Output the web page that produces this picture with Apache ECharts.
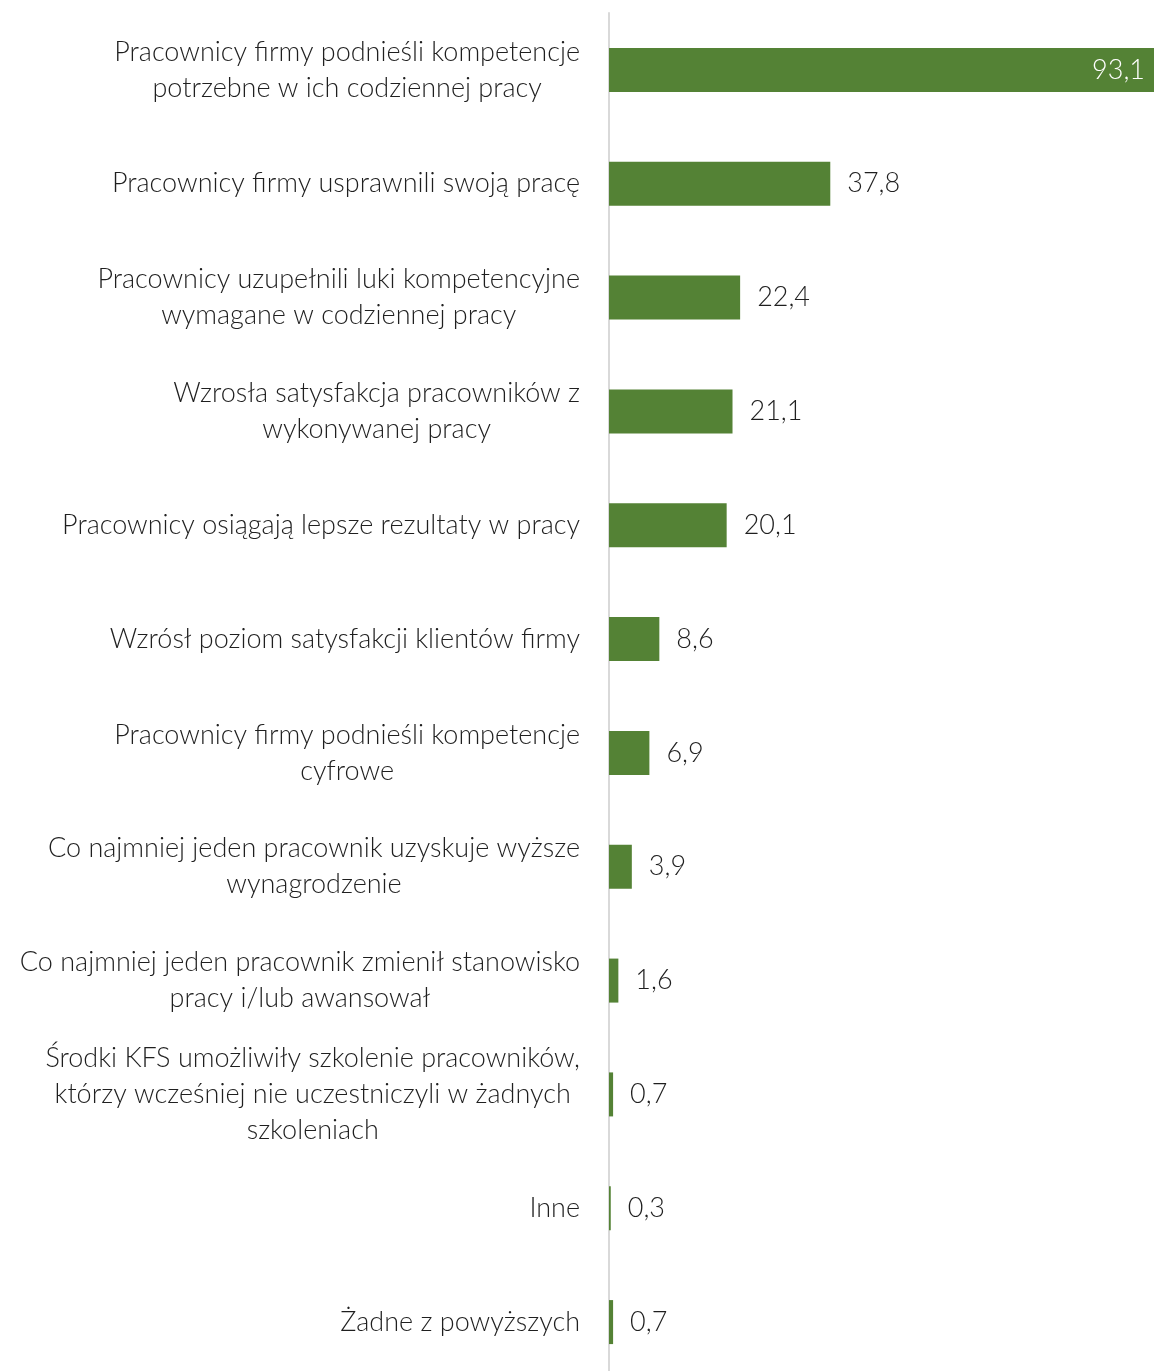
<!DOCTYPE html>
<html>
<head>
<meta charset="utf-8">
<script src="https://cdn.jsdelivr.net/npm/echarts@6/dist/echarts.min.js"></script>
<style>
  html, body { margin: 0; padding: 0; background: #fff; overflow: hidden; }
  /* a little taller than the window so the last band runs off the bottom edge */
  #chart1 { width: 1154px; height: 1379px; }
</style>
</head>
<body>
<div id="chart1"></div>
<script>
// categories (top to bottom), line breaks as in the original
var categoryList = [
	'Pracownicy firmy podnieśli kompetencje\npotrzebne w ich codziennej pracy',
	'Pracownicy firmy usprawnili swoją pracę',
	'Pracownicy uzupełnili luki kompetencyjne\nwymagane w codziennej pracy',
	'Wzrosła satysfakcja pracowników z\nwykonywanej pracy',
	'Pracownicy osiągają lepsze rezultaty w pracy',
	'Wzrósł poziom satysfakcji klientów firmy',
	'Pracownicy firmy podnieśli kompetencje\ncyfrowe',
	'Co najmniej jeden pracownik uzyskuje wyższe\nwynagrodzenie',
	'Co najmniej jeden pracownik zmienił stanowisko\npracy i/lub awansował',
	'Środki KFS umożliwiły szkolenie pracowników,\nktórzy wcześniej nie uczestniczyli w żadnych\nszkoleniach',
	'Inne',
	'Żadne z powyższych'
];
var valueList = [93.1, 37.8, 22.4, 21.1, 20.1, 8.6, 6.9, 3.9, 1.6, 0.7, 0.3, 0.7];

var fontName = 'Lato, "Open Sans", sans-serif';
var textColor = '#1f1f1f';
var barColor = '#548235';

var chart = echarts.init(document.getElementById('chart1'));

var seriesData = [];
for (var i = 0; i < valueList.length; i++) {
	var item = { value: valueList[i] };
	if (i == 0) {
		// the longest bar carries its label inside
		item.label = { position: 'insideRight', color: '#ffffff', distance: 9 };
	}
	seriesData.push(item);
}

chart.setOption({
	animation: false,
	grid: {
		left: 609,
		right: 0,
		top: 13,
		bottom: 0,
		containLabel: false
	},
	xAxis: {
		type: 'value',
		min: 0,
		max: 93.1,
		show: false
	},
	yAxis: {
		type: 'category',
		inverse: true,
		data: categoryList,
		axisLine: { show: true, lineStyle: { color: '#d9d9d9', width: 2 } },
		axisTick: { show: false },
		axisLabel: {
			margin: 29,
			align: 'right',
			lineHeight: 36,
			formatter: function(value) {
				// each line centred inside the right-aligned block
				return value.split('\n').map(function(s) {
					return '{c|' + s + '}';
				}).join('\n');
			},
			rich: {
				c: {
					align: 'center',
					fontFamily: fontName,
					fontWeight: 300,
					fontSize: 27,
					lineHeight: 36,
					color: textColor
				}
			}
		}
	},
	series: [{
		type: 'bar',
		data: seriesData,
		barWidth: 44,
		itemStyle: { color: barColor },
		label: {
			show: true,
			position: 'right',
			distance: 17,
			fontFamily: fontName,
			fontWeight: 300,
			fontSize: 27,
			color: textColor,
			formatter: function(p) {
				return String(p.value).replace('.', ',');
			}
		}
	}]
});

window.onresize = function() {
	chart.resize();
};
</script>
</body>
</html>
